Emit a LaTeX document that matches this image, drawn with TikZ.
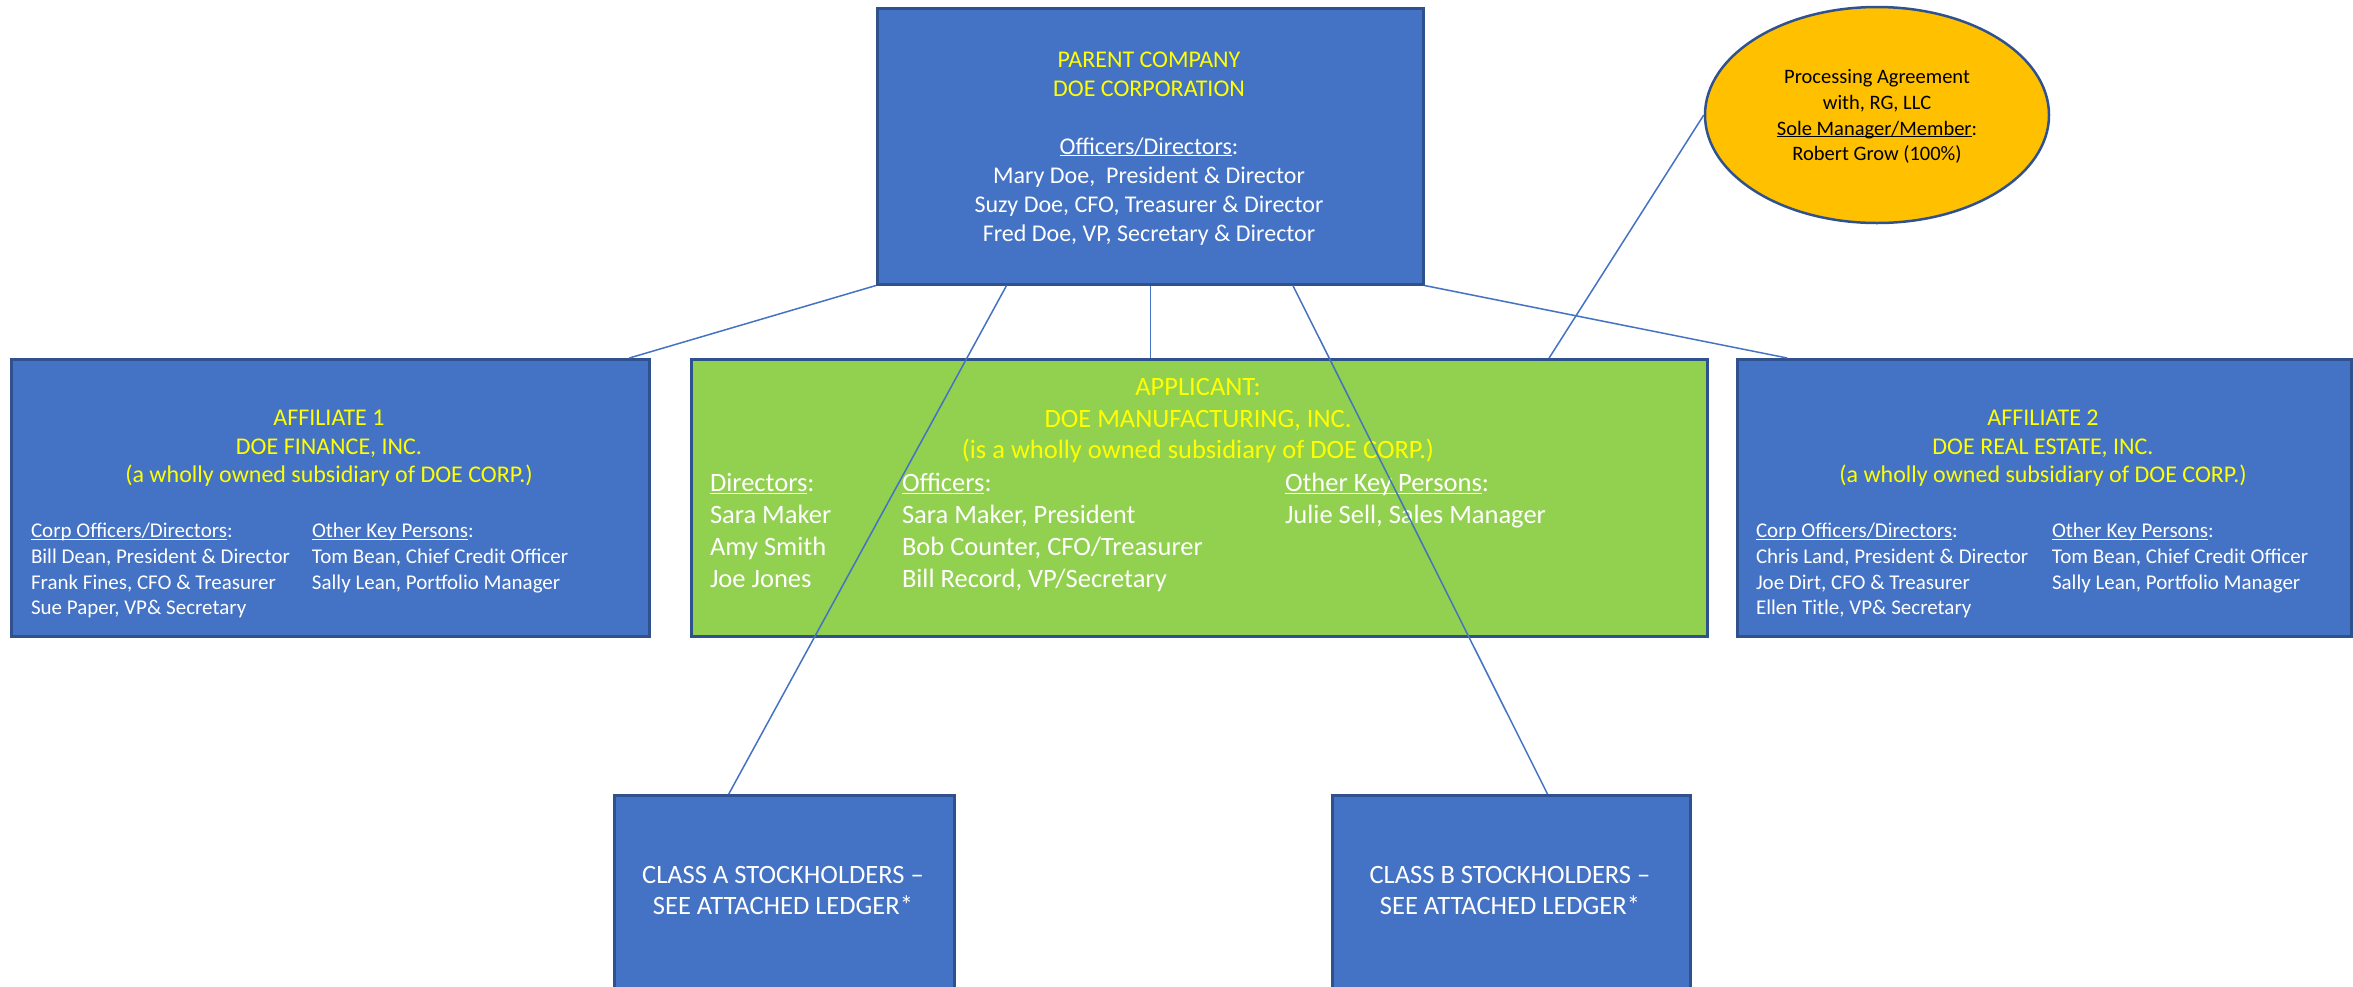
\documentclass[tikz,border=0pt]{standalone}
\usepackage{fontspec}
\setmainfont{Carlito}
\usetikzlibrary{calc,shapes.geometric}
\definecolor{boxblue}{HTML}{4472C4}
\definecolor{edgeblue}{HTML}{2F528F}
\definecolor{appgreen}{HTML}{92D050}
\definecolor{ellorange}{HTML}{FFC000}
\definecolor{txtyellow}{HTML}{FFFF00}
\newcommand\uln[1]{\leavevmode\setbox0\hbox{#1}\rlap{\rule[-0.1em]{\wd0}{0.055em}}\box0}
\newcommand\fsz[2]{\fontsize{#1}{#2}\selectfont}
\begin{document}
\begin{tikzpicture}[x=1pt,y=-1pt,
  orgbox/.style={draw=edgeblue, line width=2.5pt, fill=boxblue, rectangle, inner sep=0pt, anchor=north west},
  txt/.style={inner sep=0pt, outer sep=0pt},
  link/.style={draw=boxblue, line width=1.5pt}]
\useasboundingbox (0,0) rectangle (2353,986);
% boxes
\node[orgbox, minimum width=546pt, minimum height=276pt] (parent) at (876,7) {};
\node[draw=edgeblue, line width=2.5pt, fill=ellorange, ellipse, inner sep=0pt, minimum width=344pt, minimum height=216pt] (ell) at (1877,115) {};
\node[orgbox, minimum width=638pt, minimum height=277pt] (aff1) at (10,358) {};
\node[orgbox, fill=appgreen, minimum width=1016pt, minimum height=277pt] (app) at (690,358) {};
\node[orgbox, minimum width=614pt, minimum height=277pt] (aff2) at (1736,358) {};
\node[orgbox, minimum width=340pt, minimum height=200pt] (clsa) at (613,794) {};
\node[orgbox, minimum width=358pt, minimum height=200pt] (clsb) at (1331,794) {};
% texts
\node[txt, anchor=north, text=white] (ptxt) at (1149,46.7) {\fsz{24}{29}\begin{tabular}{@{}c@{}}
\textcolor{txtyellow}{PARENT COMPANY}\\
\textcolor{txtyellow}{DOE CORPORATION}\\
\\
\uln{Officers/Directors}:\\
Mary Doe,\ \ President \& Director\\
Suzy Doe, CFO, Treasurer \& Director\\
Fred Doe, VP, Secretary \& Director
\end{tabular}};
\node[txt, anchor=north, text=black] (etxt) at (1877,65.8) {\fsz{20.5}{25.7}\begin{tabular}{@{}c@{}}
Processing Agreement\\
with, RG, LLC\\
\uln{Sole Manager/Member}:\\
Robert Grow (100\%)
\end{tabular}};
\node[txt, anchor=north, text=txtyellow] (a1top) at (329,406) {\fsz{24}{28.5}\begin{tabular}{@{}c@{}}
AFFILIATE 1\\
DOE FINANCE, INC.\\
(a wholly owned subsidiary of DOE CORP.)
\end{tabular}};
\node[txt, anchor=north west, text=white] (a1low) at (31,520) {\fsz{21}{25.6}\begin{tabular}{@{}p{281pt}@{}l@{}}
\uln{Corp Officers/Directors}: & \uln{Other Key Persons}:\\
Bill Dean, President \& Director & Tom Bean, Chief Credit Officer\\
Frank Fines, CFO \& Treasurer & Sally Lean, Portfolio Manager\\
Sue Paper, VP\& Secretary &
\end{tabular}};
\node[txt, anchor=north, text=txtyellow] (a2top) at (2043,406) {\fsz{24}{28.5}\begin{tabular}{@{}c@{}}
AFFILIATE 2\\
DOE REAL ESTATE, INC.\\
(a wholly owned subsidiary of DOE CORP.)
\end{tabular}};
\node[txt, anchor=north west, text=white] (a2low) at (1756,520) {\fsz{21}{25.6}\begin{tabular}{@{}p{296pt}@{}l@{}}
\uln{Corp Officers/Directors}: & \uln{Other Key Persons}:\\
Chris Land, President \& Director & Tom Bean, Chief Credit Officer\\
Joe Dirt, CFO \& Treasurer & Sally Lean, Portfolio Manager\\
Ellen Title, VP\& Secretary &
\end{tabular}};
\node[txt, anchor=north, text=txtyellow] (aptop) at (1198,373.6) {\fsz{26.5}{31.5}\begin{tabular}{@{}c@{}}
APPLICANT:\\
DOE MANUFACTURING, INC.\\
(is a wholly owned subsidiary of DOE CORP.)
\end{tabular}};
\node[txt, anchor=north west, text=white] (aplow) at (710,469.3) {\fsz{26.5}{32}\begin{tabular}{@{}p{192pt}@{}p{383pt}@{}l@{}}
\uln{Directors}: & \uln{Officers}: & \uln{Other Key Persons}:\\
Sara Maker & Sara Maker, President & Julie Sell, Sales Manager\\
Amy Smith & Bob Counter, CFO/Treasurer & \\
Joe Jones & Bill Record, VP/Secretary &
\end{tabular}};
\node[txt, anchor=north, text=white] (catxt) at (783,862) {\fsz{26.5}{31}\begin{tabular}{@{}c@{}}
CLASS A STOCKHOLDERS –\\
SEE ATTACHED LEDGER*
\end{tabular}};
\node[txt, anchor=north, text=white] (cbtxt) at (1510,862) {\fsz{26.5}{31}\begin{tabular}{@{}c@{}}
CLASS B STOCKHOLDERS –\\
SEE ATTACHED LEDGER*
\end{tabular}};
% connectors
\draw[link] (parent.south west) -- ($(aff1.north west)!0.967!(aff1.north east)$);
\draw[link] ($(parent.south west)!0.238!(parent.south east)$) -- ($(clsa.north west)!0.338!(clsa.north east)$);
\draw[link] (parent.south) -- (parent.south |- app.north);
\draw[link] ($(parent.south west)!0.760!(parent.south east)$) -- ($(clsb.north west)!0.6006!(clsb.north east)$);
\draw[link] (parent.south east) -- ($(aff2.north west)!0.083!(aff2.north east)$);
\draw[link] (ell.west) -- ($(app.north west)!0.8435!(app.north east)$);
\end{tikzpicture}
\end{document}
